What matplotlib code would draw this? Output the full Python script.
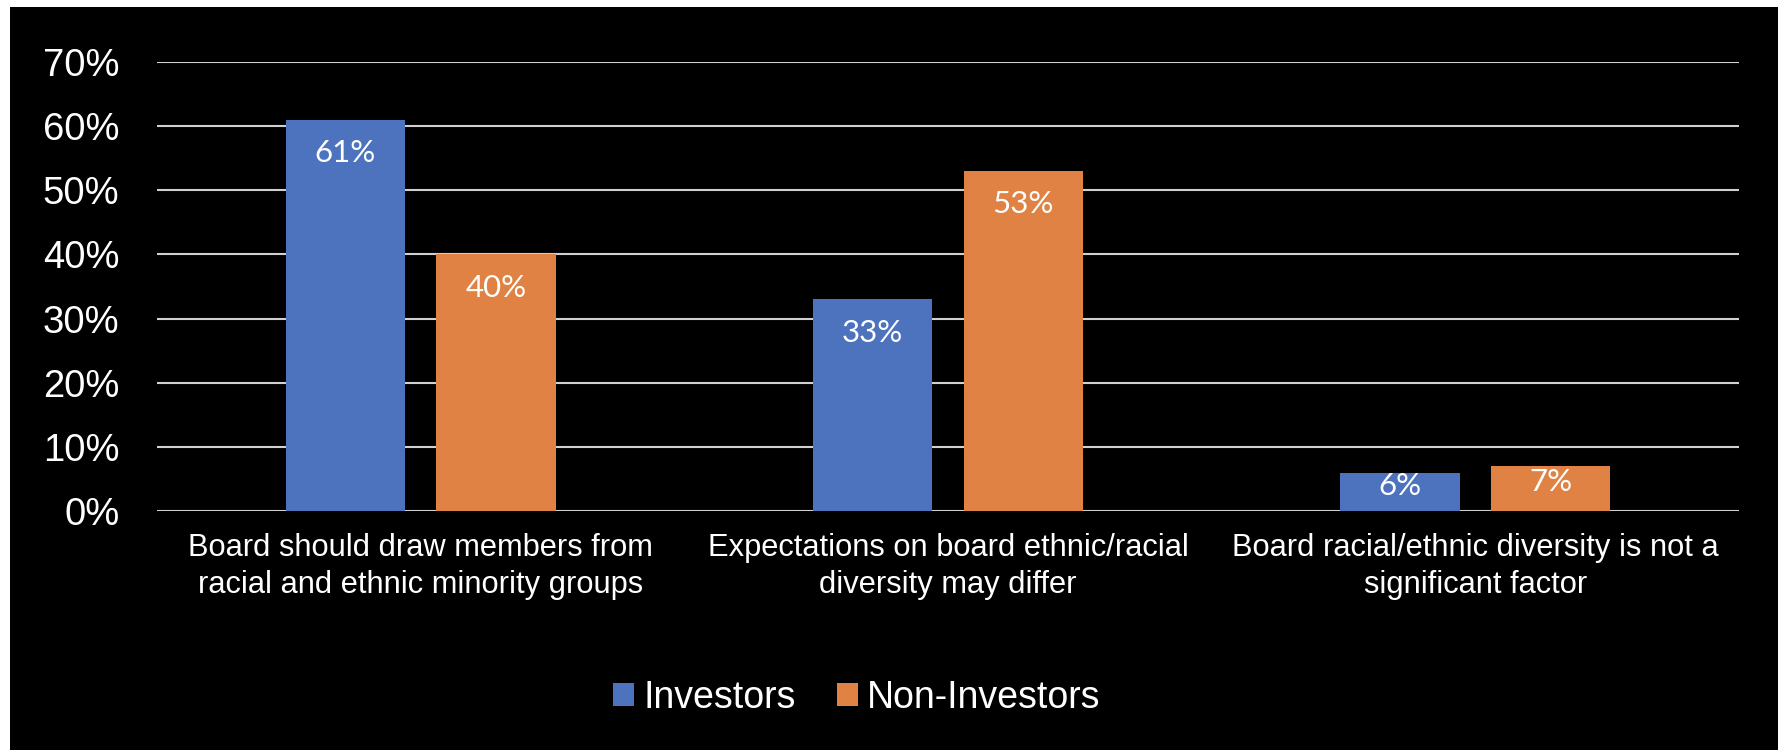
import matplotlib
matplotlib.use("Agg")
import matplotlib.pyplot as plt
from matplotlib.patches import Rectangle, Patch
import numpy as np

categories = ["Board should draw members from\nracial and ethnic minority groups",
              "Expectations on board ethnic/racial\ndiversity may differ",
              "Board racial/ethnic diversity is not a\nsignificant factor"]
investors = [61, 33, 6]
non_investors = [40, 53, 7]
series_names = ["Investors", "Non-Investors"]
yticks = [0, 10, 20, 30, 40, 50, 60, 70]

blue = "#4D73BE"
orange = "#DF8244"
W, H = 1781, 750

fig = plt.figure(figsize=(W/100, H/100), dpi=100, facecolor="white")
fig.patches.append(Rectangle((10/W, 0), (1778-10)/W, (750-7)/H, transform=fig.transFigure,
                             facecolor="black", edgecolor="none", zorder=-10))

ax = fig.add_axes([157/W, (750-511)/H, (1739-157)/W, (511-62)/H])
ax.set_facecolor("black")
ax.patch.set_alpha(0)

x = np.arange(len(categories))
bw = 0.226
off = 0.143
b1 = ax.bar(x - off, investors, bw, color=blue, zorder=3)
b2 = ax.bar(x + off, non_investors, bw, color=orange, zorder=3)

ax.set_xlim(-0.5, 2.5)
ax.set_ylim(0, 70)
px_per_unit = (511 - 62) / 70.0

for bars, vals in ((b1, investors), (b2, non_investors)):
    for r, v in zip(bars, vals):
        h_pt = r.get_height() * px_per_unit * 0.72
        dy = min(24, 0.5 * h_pt - 4.5)
        ax.annotate(f"{v}%", (r.get_x() + r.get_width()/2, r.get_height()),
                    xytext=(0, -dy), textcoords="offset points", ha="center", va="center",
                    color="white", fontsize=22.5, family=["Lato", "DejaVu Sans"], zorder=4)

ax.set_yticks(yticks)
ax.set_yticklabels([f"{t}%" for t in yticks], family="Liberation Sans", fontsize=27.5, color="white")
ax.set_xticks(x)
ax.set_xticklabels(categories, family="Liberation Sans", fontsize=22.2, color="white", linespacing=1.28)
ax.tick_params(axis="both", length=0)
ax.tick_params(axis="y", pad=27)
ax.tick_params(axis="x", pad=16)
ax.grid(axis="y", color="#d0d0d0", linewidth=1.5, zorder=1)
for s in ax.spines.values():
    s.set_visible(False)

handles = [Patch(facecolor=blue), Patch(facecolor=orange)]
leg = fig.legend(handles, series_names, loc="center", bbox_to_anchor=(857/W, (750-698)/H),
                 ncol=2, frameon=False, prop={"family": "Liberation Sans", "size": 27},
                 handlelength=0.55, handleheight=0.55, handletextpad=0.25, columnspacing=1.1)
for t in leg.get_texts():
    t.set_color("white")

fig.savefig("out.png", dpi=100, facecolor="white")
